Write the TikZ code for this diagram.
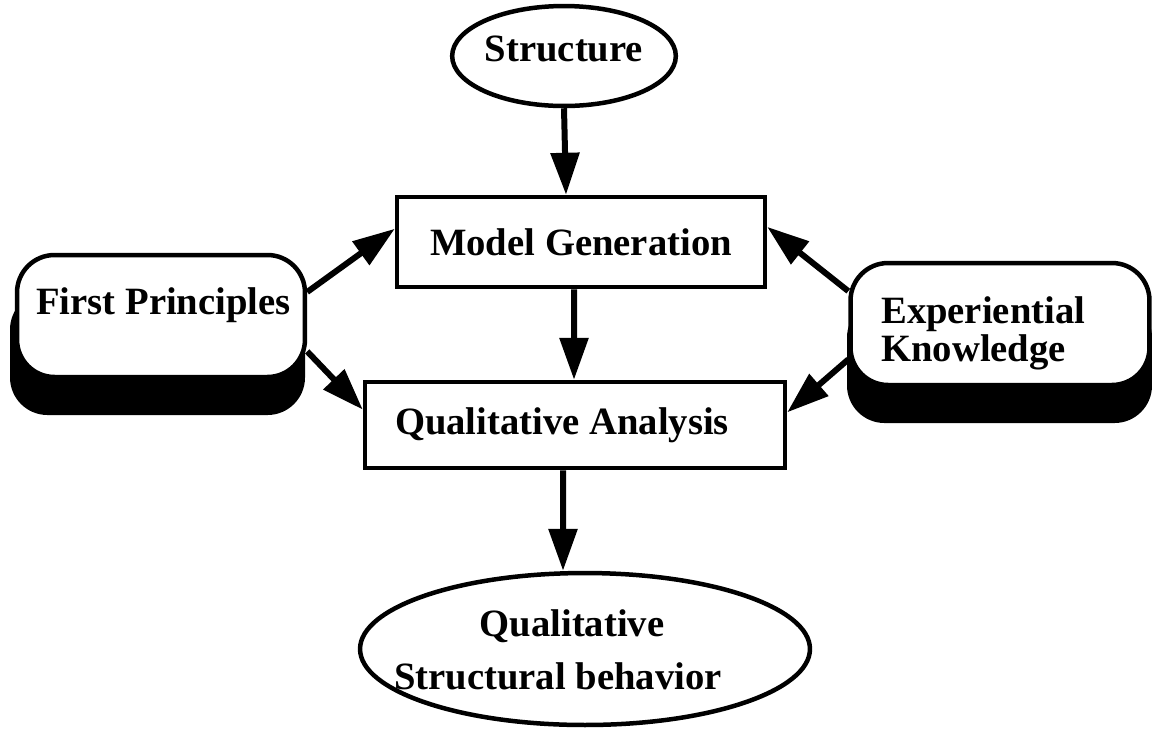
\documentclass[tikz,border=0pt]{standalone}
\usepackage{fontspec}
\setmainfont{Liberation Serif}
\usetikzlibrary{shapes.geometric,arrows.meta,calc}
\begin{document}
\begin{tikzpicture}[x=0.02cm,y=-0.02cm,
  lbl/.style={font=\fontsize{22}{26}\selectfont\bfseries},
  oval/.style={ellipse,draw,line width=0.09cm,inner sep=0pt},
  stepbox/.style={rectangle,draw,line width=0.09cm,inner sep=0pt},
  roundbox/.style={rectangle,rounded corners=0.75cm,draw,fill=white,line width=0.09cm,
                   inner sep=0pt,minimum width=5.76cm,minimum height=2.44cm},
  shade/.style={fill=black,rounded corners=0.75cm},
  arr/.style={line width=0.12cm,-{Triangle[length=0.84cm,width=0.56cm]}}]
\useasboundingbox (0,0) rectangle (1152,728);

% central chain
\node[oval,lbl,text depth=0.28cm,minimum width=4.32cm,minimum height=2cm] (st) at (564,56) {Structure};
\node[stepbox,lbl,minimum width=7.36cm,minimum height=1.8cm] (mg) at (581,242) {Model Generation};
\node[stepbox,lbl,minimum width=8.4cm,minimum height=1.72cm] (qa) at (575,425) {Qualitative Analysis\hspace*{0.52cm}};
\node[oval,minimum width=9cm,minimum height=3.04cm] (qsb) at (585,649) {};
\node[align=center,font=\fontsize{22}{30}\selectfont\bfseries] (qsbt) at (572,650)
     {Qualitative\\Structural behavior\hspace*{0.56cm}};

% knowledge sources with heavy drop shadows
\fill[shade] (10,292) rectangle (305,415);
\node[roundbox] (fp) at (161,316) {};
\node[lbl,anchor=east] (fpt) at (297,305) {First Principles};

\fill[shade] (847,300) rectangle (1152,423);
\node[roundbox,minimum width=5.98cm] (ek) at (1000,324) {};
\node[anchor=west,align=left,font=\fontsize{22}{21.5}\selectfont\bfseries] (ekt) at (875,333) {Experiential\\Knowledge};

% connectors
\draw[arr] (st.south) -- ([xshift=-0.3cm]mg.north);
\draw[arr] ([xshift=-0.14cm]mg.south) -- ([xshift=-0.02cm]qa.north);
\draw[arr] ([xshift=-0.24cm]qa.south) -- ([xshift=-0.44cm]qsb.north);

\draw[arr] ($(fp.north east)!0.31!(fp.south east)$) -- ($(mg.north west)!0.36!(mg.south west)$);
\draw[arr] ($(fp.north east)!0.78!(fp.south east)$) -- ($(qa.north west)!0.33!(qa.south west)$);
\draw[arr] ($(ek.north west)!0.24!(ek.south west)$) -- ($(mg.north east)!0.34!(mg.south east)$);
\draw[arr] ($(ek.north west)!0.78!(ek.south west)$) -- ($(qa.north east)!0.36!(qa.south east)$);
\end{tikzpicture}
\end{document}
